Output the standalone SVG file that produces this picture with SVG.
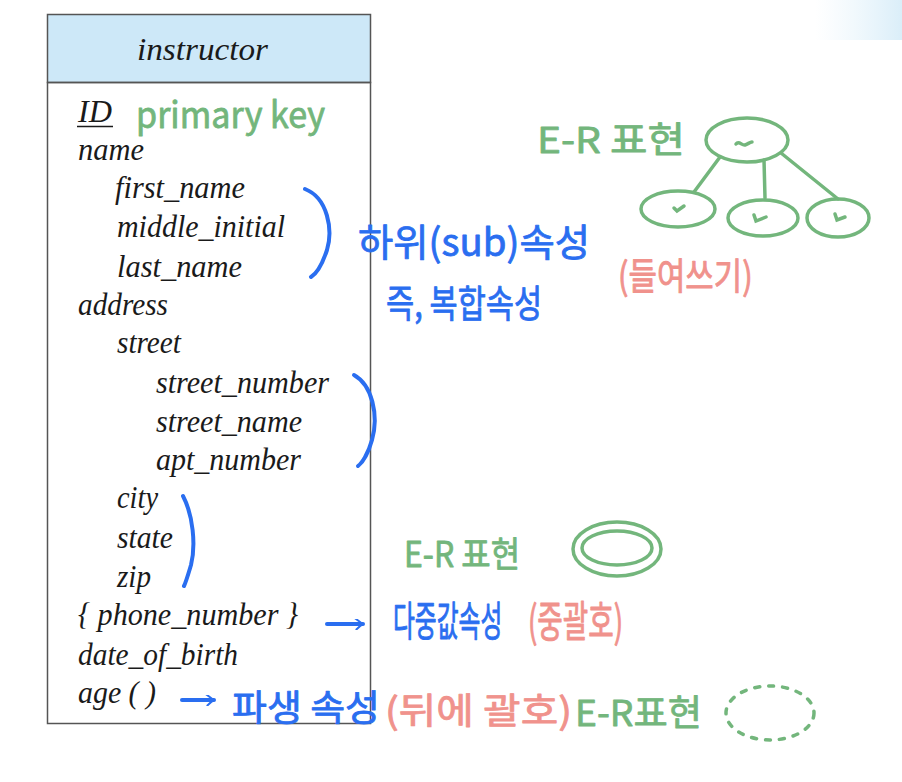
<svg xmlns="http://www.w3.org/2000/svg" width="902" height="782" viewBox="0 0 902 782">
<defs>
<linearGradient id="glow" x1="0" y1="0" x2="1" y2="0">
<stop offset="0" stop-color="#e3f2fb" stop-opacity="0"/>
<stop offset="1" stop-color="#d6ecf8" stop-opacity="0.9"/>
</linearGradient>
<marker id="arr" viewBox="0 0 10 10" refX="8" refY="5" markerWidth="11" markerHeight="11" orient="auto" markerUnits="userSpaceOnUse">
<path d="M1,0 C4,2 6,4 8,5 C6,6 4,8 2,10" fill="none" stroke="#2a6ef0" stroke-width="1.8" stroke-linecap="round" stroke-linejoin="round"/>
</marker>
<style>
.row{font-family:"Liberation Serif","Times New Roman",serif;font-style:italic;font-size:32px;fill:#1a1a1a}
.hdr{font-family:"Liberation Serif","Times New Roman",serif;font-style:italic;font-size:32px;fill:#1a1a1a}
.hand{font-family:"Noto Sans CJK KR","Noto Sans",sans-serif;stroke-width:0.8;stroke-linejoin:round}
.g{fill:#73b67c;stroke:#73b67c}
.b{fill:#2a6ef0;stroke:#2a6ef0}
.p{fill:#f0928c;stroke:#f0928c}
.gs{fill:none;stroke:#73b67c;stroke-width:3.5;stroke-linecap:round}
.bs{fill:none;stroke:#2a6ef0;stroke-width:4;stroke-linecap:round}
</style>
</defs>
<rect width="902" height="782" fill="#ffffff"/>
<rect x="815" y="0" width="87" height="40" fill="url(#glow)"/>

<g id="instructor">
<rect x="47.5" y="14.5" width="323" height="68" fill="#cde8f8" stroke="#555" stroke-width="1.5"/>
<rect x="47.5" y="82.5" width="323" height="641" fill="none" stroke="#555" stroke-width="1.5"/>
<text class="hdr" x="137" y="60" textLength="131" lengthAdjust="spacingAndGlyphs">instructor</text>
<text class="row" x="78" y="122" textLength="34" lengthAdjust="spacingAndGlyphs">ID</text>
<line x1="77" y1="126.5" x2="113" y2="126.5" stroke="#1a1a1a" stroke-width="1.4"/>
<text class="row" x="78" y="160" textLength="66" lengthAdjust="spacingAndGlyphs">name</text>
<text class="row" x="115" y="198" textLength="130" lengthAdjust="spacingAndGlyphs">first_name</text>
<text class="row" x="117" y="237" textLength="168" lengthAdjust="spacingAndGlyphs">middle_initial</text>
<text class="row" x="117" y="277" textLength="125" lengthAdjust="spacingAndGlyphs">last_name</text>
<text class="row" x="78" y="315" textLength="90" lengthAdjust="spacingAndGlyphs">address</text>
<text class="row" x="117" y="353" textLength="64" lengthAdjust="spacingAndGlyphs">street</text>
<text class="row" x="156" y="393" textLength="173" lengthAdjust="spacingAndGlyphs">street_number</text>
<text class="row" x="156" y="432" textLength="146" lengthAdjust="spacingAndGlyphs">street_name</text>
<text class="row" x="156" y="470" textLength="145" lengthAdjust="spacingAndGlyphs">apt_number</text>
<text class="row" x="117" y="508" textLength="41" lengthAdjust="spacingAndGlyphs">city</text>
<text class="row" x="117" y="548" textLength="56" lengthAdjust="spacingAndGlyphs">state</text>
<text class="row" x="117" y="587" textLength="34" lengthAdjust="spacingAndGlyphs">zip</text>
<text class="row" x="78" y="625" textLength="220" lengthAdjust="spacingAndGlyphs">{ phone_number }</text>
<text class="row" x="78" y="665" textLength="160" lengthAdjust="spacingAndGlyphs">date_of_birth</text>
<text class="row" x="78" y="703" textLength="78" lengthAdjust="spacingAndGlyphs">age ( )</text>
</g>

<g id="annot-primary">
<text class="hand g" x="136" y="128" font-size="36" textLength="189" lengthAdjust="spacingAndGlyphs">primary key</text>
</g>

<g id="annot-composite">
<path class="bs" d="M305,189 C328,198 333,230 327,250 C322,265 316,274 311,277"/>
<text class="hand b" x="358" y="256" font-size="38" textLength="232" lengthAdjust="spacingAndGlyphs">하위(sub)속성</text>
<text class="hand b" transform="translate(386,317) scale(0.85,1.05)" font-size="36">즉, 복합속성</text>
</g>

<g id="annot-street">
<path class="bs" d="M354,375 C372,385 379,415 372,440 C368,454 362,463 358,466"/>
</g>
<g id="annot-city">
<path class="bs" d="M183,496 C193,515 196,545 191,565 C188,575 186,582 184,586"/>
</g>

<g id="er-composite">
<text class="hand g" x="537" y="153" font-size="36" textLength="148" lengthAdjust="spacingAndGlyphs">E-R 표현</text>
<ellipse class="gs" cx="747" cy="140" rx="41" ry="22"/>
<ellipse class="gs" cx="678" cy="209" rx="37" ry="18"/>
<ellipse class="gs" cx="763" cy="218" rx="35" ry="18"/>
<ellipse class="gs" cx="838" cy="218" rx="31" ry="19"/>
<path class="gs" d="M720,157 L694,192 M764,160 L765,198 M781,153 L838,199"/>
<path class="gs" stroke-width="2.5" d="M736,144 C739,140 742,146 745,145 C748,144 750,142 752,142"/>
<path class="gs" stroke-width="2.5" d="M674,208 L677,211 L684,206"/>
<path class="gs" stroke-width="2.5" d="M754,215 L756,221 L766,217"/>
<path class="gs" stroke-width="2.5" d="M835,214 L837,220 L845,217"/>
<text class="hand p" transform="translate(618,290) scale(0.91,1.1)" font-size="34">(들여쓰기)</text>
</g>

<g id="er-multivalued">
<text class="hand g" transform="translate(404,567) scale(0.94,1.05)" font-size="34">E-R 표현</text>
<ellipse class="gs" cx="617" cy="549" rx="44" ry="27"/>
<ellipse class="gs" cx="617" cy="548" rx="35" ry="17"/>
</g>

<g id="annot-multivalued">
<text class="hand b" transform="translate(393,636) scale(0.66,1.15)" font-size="36">다중값속성</text>
<text class="hand p" transform="translate(528,637) scale(0.77,1.2)" font-size="36">(중괄호)</text>
</g>

<g id="annot-derived">
<text class="hand b" x="232" y="721" font-size="36" textLength="148" lengthAdjust="spacingAndGlyphs">파생 속성</text>
<text class="hand p" x="385" y="724" font-size="36" textLength="187" lengthAdjust="spacingAndGlyphs">(뒤에 괄호)</text>
<text class="hand g" x="575" y="726" font-size="36" textLength="127" lengthAdjust="spacingAndGlyphs">E-R표현</text>
<ellipse class="gs" cx="770" cy="713" rx="44" ry="27" stroke-dasharray="5 9"/>
</g>

<g id="connectors">
<line class="bs" stroke-width="3.5" x1="327" y1="624" x2="363" y2="624" marker-end="url(#arr)"/>
<line class="bs" stroke-width="3.5" x1="182" y1="700" x2="214" y2="700" marker-end="url(#arr)"/>
</g>
</svg>
